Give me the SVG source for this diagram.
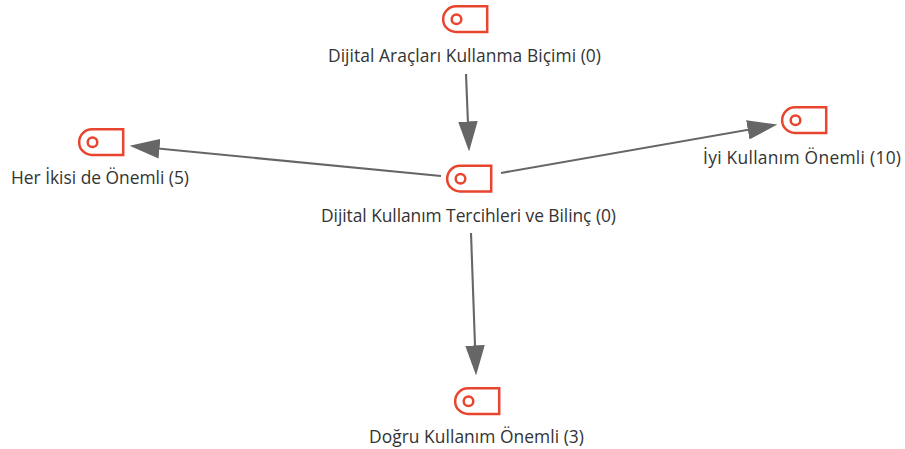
<svg xmlns="http://www.w3.org/2000/svg" width="905" height="449" viewBox="0 0 905 449">
<style>
text{font-family:"Open Sans","Noto Sans","Liberation Sans",sans-serif;font-size:17.4px;fill:#333;text-anchor:middle}
.b{fill:none;stroke:#e8442e;stroke-width:2.5}
.c{stroke:#666;stroke-width:2.1;fill:none;marker-end:url(#a)}
</style>
<defs>
<marker id="a" markerUnits="userSpaceOnUse" markerWidth="30" markerHeight="20" refX="15" refY="7.500" orient="auto" viewBox="0 0 23 15"><path d="M0 0L23 7.500L0 15Z" fill="#666"/></marker>
<g id="i"><path class="b" d="M13 1.300H44.200V27H13A12.800 12.800 0 0 1 13 1.300Z"/><circle class="b" cx="13.500" cy="14.200" r="4.800"/></g>
</defs>
<g id="connectors">
<path class="c" d="M466 74L468.700 141"/>
<path class="c" d="M441 176L140 146.800"/>
<path class="c" d="M501 173L767.100 126.400"/>
<path class="c" d="M471 233L475.700 365"/>
</g>
<g id="n1"><use href="#i" x="443" y="5"/><text x="464.500" y="62" textLength="273">Dijital Araçları Kullanma Biçimi (0)</text></g>
<g id="n2"><use href="#i" x="447" y="164.500"/><text x="468.500" y="221.500" textLength="295">Dijital Kullanım Tercihleri ve Bilinç (0)</text></g>
<g id="n3"><use href="#i" x="79" y="128"/><text x="100" y="184" textLength="178">Her İkisi de Önemli (5)</text></g>
<g id="n4"><use href="#i" x="782" y="106"/><text x="802" y="164" textLength="198">İyi Kullanım Önemli (10)</text></g>
<g id="n5"><use href="#i" x="455" y="387"/><text x="476.500" y="443" textLength="215">Doğru Kullanım Önemli (3)</text></g>
</svg>
